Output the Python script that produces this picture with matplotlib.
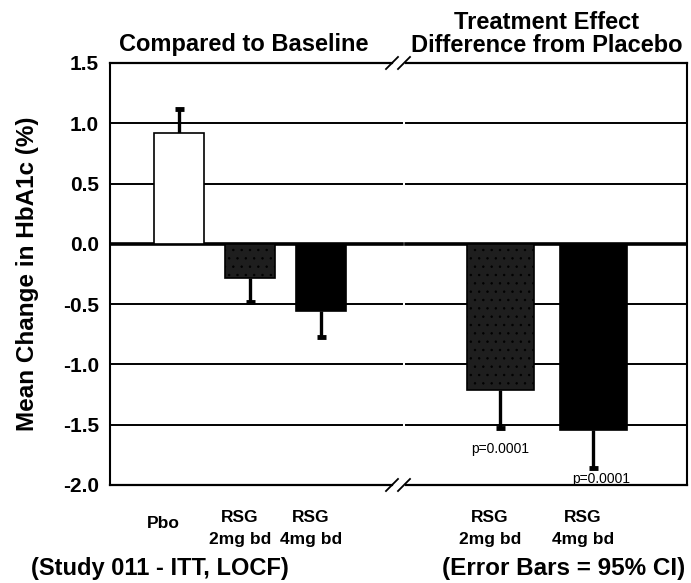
import matplotlib
matplotlib.use("Agg")
import matplotlib.pyplot as plt

# ---- data ----
categories = ["Pbo", "RSG\n2mg bd", "RSG\n4mg bd", "RSG\n2mg bd", "RSG\n4mg bd"]
values = [0.92, -0.28, -0.555, -1.21, -1.54]
err = [0.20, 0.20, 0.215, 0.315, 0.32]
pvalues = ["", "", "", "p=0.0001", "p=0.0001"]
yticks = [1.5, 1.0, 0.5, 0.0, -0.5, -1.0, -1.5, -2.0]
ytick_labels = ["1.5", "1.0", "0.5", "0.0", "-0.5", "-1.0", "-1.5", "-2.0"]

# layout (axes in pixel-like units)
xpos = [69, 140, 211, 390, 483]
widths = [50, 50, 50, 67, 67]
faces = ["white", "#1e1e1e", "black", "#1e1e1e", "black"]
hatches = [None, "..", None, "..", None]
XMAX = 577
BREAK_L, BREAK_R = 282, 296

FAM = ["Liberation Sans", "DejaVu Sans"]
plt.rcParams["font.family"] = FAM
plt.rcParams["hatch.color"] = "#4a4a4a"
plt.rcParams["hatch.linewidth"] = 0.5

fig = plt.figure(figsize=(6.91, 5.83), dpi=100)
ax = fig.add_axes([110 / 691, 1 - 485 / 583, 577 / 691, 422 / 583])
ax.set_xlim(0, XMAX)
ax.set_ylim(-2.0, 1.5)

# gridlines, broken
for yv in yticks[1:-1]:
    lw = 2.6 if yv == 0 else 1.4
    ax.plot([0, BREAK_L + 10], [yv, yv], color="black", lw=lw, zorder=1)
    ax.plot([BREAK_R, XMAX], [yv, yv], color="black", lw=lw, zorder=1)

# bars with one-sided error bars
for x, v, e, w, fc, h in zip(xpos, values, err, widths, faces, hatches):
    ax.bar(x, v, width=w, color=fc, edgecolor="black", linewidth=1.2,
           hatch=h, zorder=3)
    end = v + e if v > 0 else v - e
    ax.vlines(x, v, end, color="black", lw=2.4, zorder=2)
    ax.plot([x - 4.5, x + 4.5], [end, end], color="black", lw=3.5,
            solid_capstyle="butt", zorder=2)

# p-values
ax.text(xpos[3], values[3] - err[3] - 0.18, pvalues[3], ha="center", va="center",
        fontsize=10)
ax.text(xpos[4] + 8, -1.95, pvalues[4], ha="center", va="center",
        fontsize=10)

# spines with breaks
for s in ["top", "bottom"]:
    ax.spines[s].set_visible(False)
ax.spines["left"].set_linewidth(1.5)
ax.spines["right"].set_linewidth(1.5)
for yv in [1.5, -2.0]:
    ax.plot([0, BREAK_L], [yv, yv], color="black", lw=1.6, clip_on=False, zorder=4)
    ax.plot([BREAK_R, XMAX], [yv, yv], color="black", lw=1.6, clip_on=False, zorder=4)
    for dx in [BREAK_L - 6, BREAK_R - 8]:
        ax.plot([dx, dx + 12], [yv - 0.05, yv + 0.05], color="black", lw=1.3,
                clip_on=False, zorder=4)

ax.set_yticks(yticks)
ax.set_yticklabels(ytick_labels, fontsize=15, fontweight="bold")
ax.tick_params(axis="y", length=0, pad=8)
ax.set_xticks([])

# x category labels
for x, c in zip(xpos, categories):
    if "\n" in c:
        ax.text(x - 10, -2.36, c, ha="center", va="center", fontsize=12.5,
                fontweight="bold", linespacing=1.6)
    else:
        ax.text(x - 16, -2.32, c, ha="center", va="center", fontsize=12.5,
                fontweight="bold")

ax.set_ylabel("Mean Change in HbA1c (%)", fontsize=17.5, fontweight="bold",
              labelpad=17)

fig.text(244 / 691, 1 - 45 / 583, "Compared to Baseline", ha="center",
         va="center", fontsize=17, fontweight="bold")
fig.text(547 / 691, 1 - 34 / 583, "Treatment Effect\nDifference from Placebo",
         ha="center", va="center", fontsize=17, fontweight="bold",
         linespacing=0.95)
fig.text(160 / 691, 1 - 568 / 583, "(Study 011 - ITT, LOCF)", ha="center",
         va="center", fontsize=17, fontweight="bold")
fig.text(564 / 691, 1 - 568 / 583, "(Error Bars = 95% CI)", ha="center",
         va="center", fontsize=17.5, fontweight="bold")

fig.savefig("out.png", dpi=100)
